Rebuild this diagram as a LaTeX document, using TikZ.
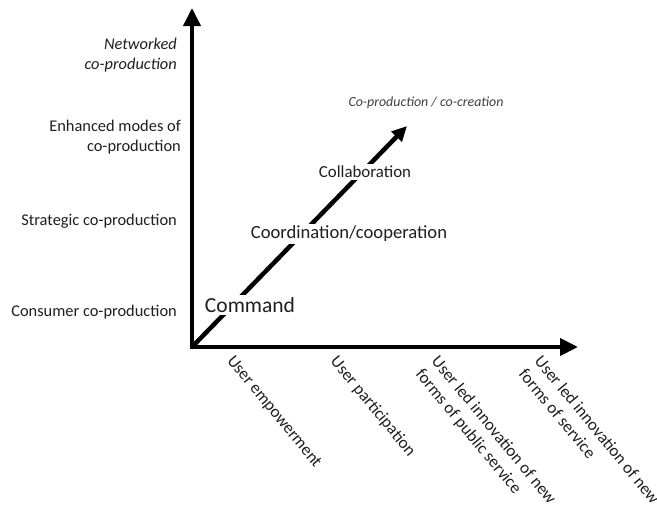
\documentclass[tikz,border=0pt]{standalone}
\usepackage{fontspec}
\setmainfont{Carlito}
\usetikzlibrary{arrows.meta}
\begin{document}
\begin{tikzpicture}[x=1pt,y=-1pt,
  axis/.style={line width=4pt, line join=miter, {Triangle[length=18pt,width=17pt]}-{Triangle[length=18pt,width=17pt]}},
  diag/.style={line width=4.5pt, -{Triangle[length=15pt,width=14pt]}},
  stage/.style={fill=white, inner sep=2.5pt, text=black!88},
  ylab/.style={anchor=east, align=right, font=\fontsize{16.4}{20}\selectfont, inner sep=0pt, text=black!88},
  xlab/.style={anchor=north west, align=left, rotate=-50.5, font=\fontsize{17}{20.5}\selectfont, inner sep=0pt, text=black!88}]
\path[use as bounding box] (0,0) rectangle (657,506);
% axes
\coordinate (O) at (192,347);
\coordinate (ytip) at (192,8);
\coordinate (xtip) at (578,347);
\coordinate (dtip) at (407,126);
\draw[axis] (ytip) -- (O) -- (xtip);
\draw[diag] (O) -- (dtip);
% stages along the diagonal
\node[stage, font=\fontsize{21.5}{24}\selectfont] (cmd) at (250,305) {Command};
\node[stage, font=\fontsize{18.6}{22}\selectfont] (coord) at (349,234) {Coordination/cooperation};
\node[stage, font=\fontsize{16.9}{20}\selectfont] (coll) at (365,172) {Collaboration};
\node[text=black!75, font=\fontsize{13.9}{16}\selectfont\itshape, inner sep=0pt] (cocr) at (426,103) {Co-production / co-creation};
% y labels
\node[ylab, font=\fontsize{16.4}{20}\selectfont\itshape] (net) at (177,55) {Networked\\co-production};
\node[ylab] (enh) at (181,137) {Enhanced modes of\\co-production};
\node[ylab] (str) at (177,221) {Strategic co-production};
\node[ylab] (con) at (177,312) {Consumer co-production};
% x labels
\node[xlab] (emp) at (235,354) {User empowerment};
\node[xlab] (par) at (339,354) {User participation};
\node[xlab] (pub) at (440,354) {User led innovation of new\\forms of public service};
\node[xlab] (new) at (543,354) {User led innovation of new\\forms of service};
\end{tikzpicture}
\end{document}
